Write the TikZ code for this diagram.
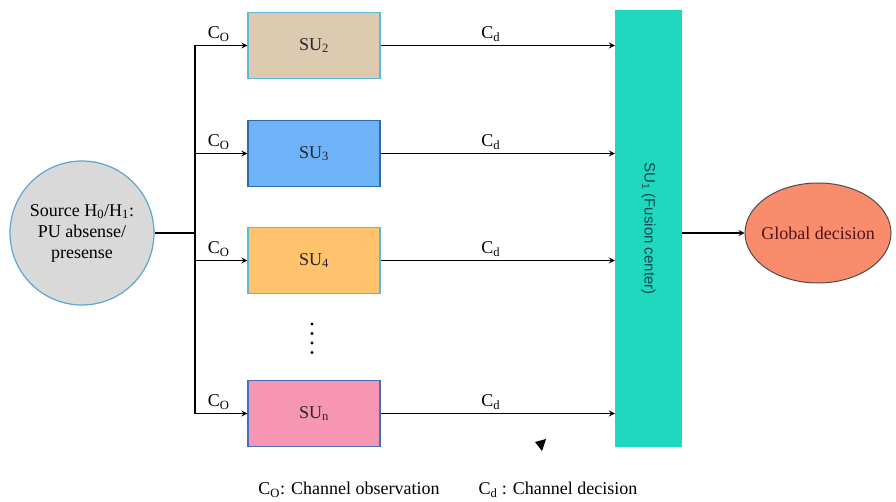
\documentclass[tikz,border=0pt]{standalone}
\usepackage{fontspec}
\setmainfont{Liberation Serif}
\newfontfamily\fusionfont{Liberation Sans}
\usepackage{xcolor}
\usetikzlibrary{shapes.geometric, arrows, positioning, calc}
\definecolor{srcgray}{RGB}{217,217,217}
\definecolor{srcline}{RGB}{95,165,210}
\definecolor{tanfill}{RGB}{221,202,176}
\definecolor{bluefill}{RGB}{110,178,248}
\definecolor{bluedraw}{RGB}{45,105,175}
\definecolor{orangefill}{RGB}{255,195,110}
\definecolor{pinkfill}{RGB}{246,150,178}
\definecolor{pinkdraw}{RGB}{70,110,185}
\definecolor{tealdraw}{RGB}{95,185,210}
\definecolor{fusionfill}{RGB}{32,216,190}
\definecolor{fusiontext}{RGB}{20,70,80}
\definecolor{globfill}{RGB}{249,140,108}
\definecolor{globtext}{RGB}{80,20,20}
\tikzstyle{source} = [circle, minimum size=144pt, align=center, draw=srcline, line width=1.2pt, fill=srcgray, inner sep=0pt]
\tikzstyle{su} = [rectangle, minimum width=132pt, minimum height=66pt, text centered, line width=1.3pt, text=black!85]
\tikzstyle{fusion} = [rectangle, minimum width=67pt, minimum height=437pt, fill=fusionfill]
\tikzstyle{global} = [ellipse, minimum width=146pt, minimum height=100pt, inner xsep=-8pt, inner ysep=0pt, draw=black!70, line width=1pt, fill=globfill, text=globtext]
\tikzstyle{arrow} = [line width=1.6pt,->,>=stealth]
\tikzstyle{line} = [line width=1.6pt]

\begin{document}
\begin{tikzpicture}[x=1pt, y=-1pt, font=\fontsize{18}{21}\selectfont]
\useasboundingbox (0,0) rectangle (896,502);

\node (src) [source] at (82,233) {Source H\textsubscript{0}/H\textsubscript{1}:\\PU absense/\\presense};
\coordinate (bus) at (195,233);

\node (su2) [su, draw=tealdraw, fill=tanfill] at (314,45.5) {SU\textsubscript{2}};
\node (su3) [su, draw=bluedraw, fill=bluefill] at (314,153.5) {SU\textsubscript{3}};
\node (su4) [su, draw=tealdraw, fill=orangefill] at (314,260.5) {SU\textsubscript{4}};
\node (sun) [su, draw=pinkdraw, fill=pinkfill] at (314,413.5) {SU\textsubscript{n}};

\node (fc) [fusion] at (648.5,228.5) {};
\node (fclabel) [rotate=-90, font=\fusionfont\fontsize{15}{18}\selectfont, text=fusiontext] at (fc.center) {SU\textsubscript{1} (Fusion center)};

\node (glob) [global] at (818,233) {Global decision};

\foreach \y in {324,333.5,343,352.5}
  \fill (312,\y) circle (1.7pt);

% Arrows
\draw [line] (src.east) -- (bus);
\draw [line] (bus |- su2.west) -- (bus |- sun.west);
\draw [arrow] (bus |- su2.west) -- node[above, pos=0.45] {C\textsubscript{O}} (su2.west);
\draw [arrow] (bus |- su3.west) -- node[above, pos=0.45] {C\textsubscript{O}} (su3.west);
\draw [arrow] (bus |- su4.west) -- node[above, pos=0.45] {C\textsubscript{O}} (su4.west);
\draw [arrow] (bus |- sun.west) -- node[above, pos=0.45] {C\textsubscript{O}} (sun.west);
\draw [arrow] (su2.east) -- node[above, pos=0.47] {C\textsubscript{d}} (su2.east -| fc.west);
\draw [arrow] (su3.east) -- node[above, pos=0.47] {C\textsubscript{d}} (su3.east -| fc.west);
\draw [arrow] (su4.east) -- node[above, pos=0.47] {C\textsubscript{d}} (su4.east -| fc.west);
\draw [arrow] (sun.east) -- node[above, pos=0.47] {C\textsubscript{d}} (sun.east -| fc.west);
\draw [arrow] (fc.east |- glob.west) -- (glob.west);

\fill (535,442) -- (546,439) -- (542,451) -- cycle;

\node (legco) at (349,490) {C\textsubscript{O}: Channel observation};
\node (legcd) at (558,490) {C\textsubscript{d} : Channel decision};

\end{tikzpicture}
\end{document}
